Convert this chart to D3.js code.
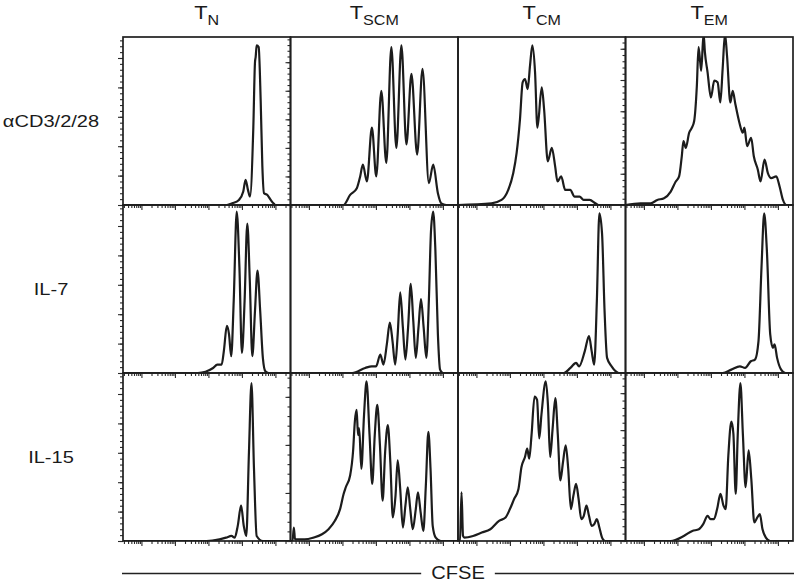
<!DOCTYPE html>
<html>
<head>
<meta charset="utf-8">
<script src="https://cdn.jsdelivr.net/npm/d3@7"></script>
<style>
  body { margin: 0; background: #fff; }
  svg text { font-family: "Liberation Sans", Arial, sans-serif; fill: #1a1a1a; }
  .tick line { stroke: #2a2a2a; }
</style>
</head>
<body>
<div id="chart"></div>
<script>
const subsets = ['N', 'SCM', 'CM', 'EM'];
const stimuli = ['αCD3/2/28', 'IL-7', 'IL-15'];
const axisTitle = 'CFSE';

// CFSE histograms, [channel (0-1000, 200 per decade), % of max]
const tnCD3 = [[0,0],[620,0],[652,1],[692,3],[718,8],[732,15],[746,9],[758,5],[778,46],[788,85],[792,88],[798,95],[810,94],[822,62],[832,23],[842,7],[862,6],[882,3],[898,1],[910,0],[1000,0]];
const tscmCD3 = [[0,0],[316,0],[356,6],[396,10],[416,17],[432,24],[456,14],[486,46],[512,17],[542,68],[572,25],[602,94],[632,34],[662,95],[692,36],[722,78],[756,30],[788,81],[826,13],[852,24],[880,7],[900,1],[930,0],[1000,0]];
const tcmCD3 = [[0,0],[200,1],[260,3],[300,9],[330,19],[350,31],[370,51],[386,73],[400,75],[416,69],[430,83],[444,95],[460,79],[474,46],[500,70],[514,57],[536,26],[560,34],[580,23],[594,14],[616,17],[640,9],[670,9],[696,5],[726,5],[750,3],[786,3],[820,1],[840,0],[1000,0]];
const temCD3 = [[0,0],[90,1],[150,1],[190,3],[230,4],[270,8],[300,14],[320,17],[336,29],[346,38],[360,34],[380,43],[396,46],[410,50],[426,71],[436,94],[446,85],[452,80],[466,102],[474,91],[490,79],[510,64],[530,74],[550,73],[566,61],[580,81],[594,102],[606,89],[626,61],[640,68],[656,60],[680,49],[700,43],[710,46],[726,35],[750,40],[766,29],[790,21],[806,14],[830,27],[850,19],[870,16],[900,17],[920,11],[940,3],[960,0],[1000,0]];

const tnIL7 = [[0,0],[447,0],[538,3],[563,5],[589,5],[602,13],[620,28],[633,23],[646,10],[661,43],[679,96],[695,63],[710,12],[726,43],[742,89],[757,55],[772,10],[788,37],[803,61],[819,37],[835,9],[850,1],[870,0],[1000,0]];
const tscmIL7 = [[0,0],[369,0],[446,3],[485,4],[511,4],[536,11],[555,5],[575,17],[593,30],[609,19],[625,5],[640,23],[655,48],[671,27],[686,8],[702,27],[718,53],[733,31],[748,9],[764,27],[779,44],[795,27],[811,9],[826,43],[839,85],[852,96],[865,73],[880,23],[893,2],[911,0],[1000,0]];
const tcmIL7 = [[0,0],[632,0],[671,3],[705,6],[723,4],[757,13],[782,22],[798,13],[813,5],[829,43],[844,95],[860,83],[875,37],[890,9],[917,4],[942,1],[960,0],[1000,0]];
const temIL7 = [[0,0],[580,0],[632,2],[683,4],[714,3],[748,7],[773,8],[794,19],[812,63],[828,95],[844,73],[864,23],[880,15],[890,17],[905,9],[929,2],[955,0],[1000,0]];

const tnIL15 = [[0,0],[499,0],[576,1],[615,2],[648,3],[667,2],[685,9],[705,21],[721,9],[736,3],[752,53],[767,94],[782,43],[798,3],[835,0],[1000,0]];
const tscmIL15 = [[0,0],[12,0],[20,8],[27,1],[85,1],[136,2],[188,4],[227,7],[265,12],[296,19],[317,28],[330,32],[356,39],[374,54],[384,71],[395,78],[403,63],[410,67],[423,43],[439,75],[454,95],[472,63],[488,34],[503,63],[518,81],[534,57],[550,24],[565,53],[581,69],[596,47],[611,14],[627,27],[640,48],[655,31],[671,8],[686,21],[700,32],[715,19],[730,7],[748,19],[761,29],[777,17],[793,6],[808,33],[823,65],[836,43],[849,9],[867,2],[898,0],[1000,0]];
const tcmIL15 = [[0,0],[12,0],[21,29],[30,3],[38,2],[90,3],[142,5],[193,7],[245,12],[284,14],[310,19],[335,25],[361,31],[379,44],[400,50],[413,55],[425,49],[439,63],[457,86],[472,84],[485,61],[498,75],[524,95],[537,81],[550,50],[565,67],[581,85],[596,63],[611,36],[627,47],[643,57],[658,43],[674,19],[689,27],[705,34],[720,25],[736,13],[751,15],[767,21],[782,15],[798,9],[813,10],[829,13],[844,8],[860,2],[878,0],[1000,0]];
const temIL15 = [[0,0],[270,0],[348,3],[399,6],[438,7],[464,10],[490,15],[508,13],[528,13],[547,19],[567,28],[585,21],[598,19],[614,51],[632,71],[644,64],[658,28],[670,63],[686,94],[701,63],[717,32],[735,54],[751,37],[769,11],[787,14],[802,16],[818,7],[838,2],[864,0],[1000,0]];

const histograms = [
  [tnCD3, tscmCD3, tcmCD3, temCD3],
  [tnIL7, tscmIL7, tcmIL7, temIL7],
  [tnIL15, tscmIL15, tcmIL15, temIL15]
];

// major count tick step on each panel's y axis (null = no ticks shown)
const yTickStep = [
  [17.5, 17, null, 18.6],
  [17.5, null, null, null],
  [17.5, 28.6, null, 22]
];

const width = 800, height = 582;
const margin = {top: 37, right: 7, bottom: 41, left: 123};
const panelW = (width - margin.left - margin.right) / subsets.length;
const panelH = (height - margin.top - margin.bottom) / stimuli.length;

const svg = d3.select('#chart').append('svg')
  .attr('width', width)
  .attr('height', height);

svg.append('defs').append('clipPath')
  .attr('id', 'panel-clip')
  .append('rect')
  .attr('width', panelW)
  .attr('height', panelH);

const x = d3.scaleLinear().domain([0, 1000]).range([0, panelW]);
const xLog = d3.scaleLog().domain([10 ** 0.45, 10 ** 5.45]).range([0, panelW]);
const y = d3.scaleLinear().domain([0, 100]).range([panelH, 0]);

const majorX = d3.range(1, 6).map(k => 10 ** k);
const minorX = [];
d3.range(0, 6).forEach(k => d3.range(2, 10).forEach(m => {
  const v = m * 10 ** k;
  if (v >= xLog.domain()[0] && v <= xLog.domain()[1]) minorX.push(v);
}));

const line = d3.line()
  .x(d => x(d[0]))
  .y(d => y(d[1]))
  .curve(d3.curveMonotoneX);

const noDomain = g => g.select('.domain').remove();

histograms.forEach((row, r) => {
  row.forEach((data, c) => {
    const panel = svg.append('g')
      .attr('transform', `translate(${margin.left + c * panelW},${margin.top + r * panelH})`);

    // x axis (log CFSE)
    panel.append('g')
      .attr('transform', `translate(0,${panelH})`)
      .call(d3.axisBottom(xLog).tickValues(minorX).tickSize(3).tickFormat(''))
      .call(noDomain);
    panel.append('g')
      .attr('transform', `translate(0,${panelH})`)
      .call(d3.axisBottom(xLog).tickValues(majorX).tickSize(5).tickFormat(''))
      .call(noDomain);

    // y axis (counts)
    const step = yTickStep[r][c];
    if (step) {
      panel.append('g')
        .call(d3.axisLeft(y).tickValues(d3.range(0, 100.01, step / 5)).tickSize(3).tickFormat(''))
        .call(noDomain);
      panel.append('g')
        .call(d3.axisLeft(y).tickValues(d3.range(0, 100.01, step)).tickSize(5).tickFormat(''))
        .call(noDomain);
    }
    panel.selectAll('.tick line').attr('stroke-width', 1.1);

    panel.append('g')
      .attr('clip-path', 'url(#panel-clip)')
      .append('path')
      .datum(data)
      .attr('d', line)
      .attr('fill', 'none')
      .attr('stroke', '#1c1c1c')
      .attr('stroke-width', 2.2)
      .attr('stroke-linejoin', 'round');

    panel.append('rect')
      .attr('width', panelW)
      .attr('height', panelH)
      .attr('fill', 'none')
      .attr('stroke', '#1f1f1f')
      .attr('stroke-width', 1.7);
  });
});

// column titles
svg.selectAll('.col-title')
  .data(subsets)
  .join('text')
  .attr('class', 'col-title')
  .attr('transform', (d, i) => `translate(${margin.left + panelW * (i + 0.5)},19) scale(1.15,1)`)
  .attr('text-anchor', 'middle')
  .style('font-size', '19px')
  .each(function(d) {
    const t = d3.select(this);
    t.append('tspan').text('T');
    t.append('tspan').attr('dy', 6).style('font-size', '14px').text(d);
  });

// row titles
svg.selectAll('.row-title')
  .data(stimuli)
  .join('text')
  .attr('class', 'row-title')
  .attr('transform', (d, i) => `translate(51,${margin.top + panelH * (i + 0.5) + 6}) scale(1.18,1)`)
  .attr('text-anchor', 'middle')
  .style('font-size', '17px')
  .text(d => d);

// CFSE axis title with rules on both sides
const cx = margin.left + panelW * subsets.length / 2;
const title = svg.append('text')
  .attr('transform', `translate(${cx},578.5) scale(1.15,1)`)
  .attr('text-anchor', 'middle')
  .style('font-size', '17.5px')
  .text(axisTitle);
const half = title.node().getComputedTextLength() * 1.15 / 2;
svg.append('line')
  .attr('x1', margin.left - 1).attr('x2', cx - half - 10)
  .attr('y1', 573.5).attr('y2', 573.5)
  .attr('stroke', '#222').attr('stroke-width', 1.4);
svg.append('line')
  .attr('x1', cx + half + 10).attr('x2', width - margin.right + 1)
  .attr('y1', 573.5).attr('y2', 573.5)
  .attr('stroke', '#222').attr('stroke-width', 1.4);
</script>
</body>
</html>
